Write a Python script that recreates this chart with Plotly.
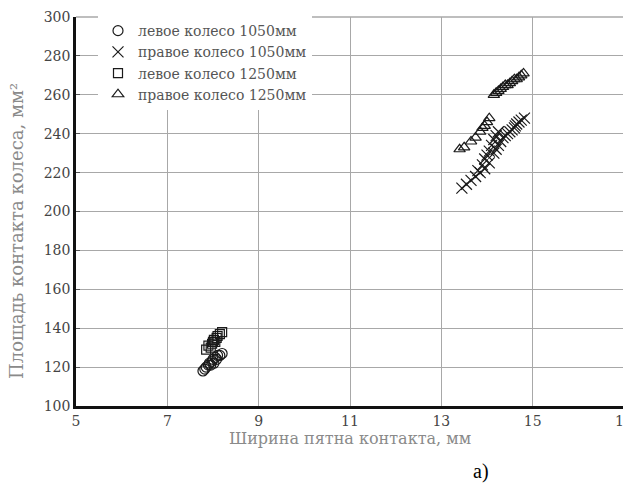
import plotly.graph_objects as go

# Data
left_1050_x = [7.78, 7.82, 7.85, 7.9, 7.92, 7.95, 7.98, 8.0, 8.02, 8.05, 8.08, 8.1, 8.15, 8.2]
left_1050_y = [118, 119, 120, 121, 122, 121, 123, 124, 122, 125, 124, 126, 126, 127]

left_1250_x = [7.85, 7.9, 7.95, 7.98, 8.0, 8.02, 8.05, 8.08, 8.1, 8.15, 8.2]
left_1250_y = [129, 131, 130, 132, 133, 134, 133, 135, 136, 137, 138]

right_1050_x = [13.45, 13.55, 13.65, 13.75, 13.85, 13.95, 14.05, 14.15, 14.2, 14.25,
                14.3, 14.35, 14.4, 14.45, 14.5, 14.55, 14.6, 14.62, 14.65, 14.7,
                14.75, 14.82,
                13.8, 13.9, 13.95, 14.0, 14.05, 14.1, 14.15, 14.2, 14.25]
right_1050_y = [212, 214, 216, 218, 220, 222, 225, 230, 232, 234,
                236, 238, 239, 240, 241, 242, 243, 244, 245, 246,
                247, 248,
                221, 224, 227, 229, 231, 234, 237, 239, 241]

right_1250_x = [13.4, 13.5, 13.65, 13.75, 13.85, 13.9, 13.95, 14.0, 14.05,
                14.15, 14.2, 14.25, 14.3, 14.35, 14.4, 14.45, 14.5, 14.55,
                14.6, 14.65, 14.7, 14.75, 14.8]
right_1250_y = [232, 233, 236, 238, 241, 243, 244, 246, 248,
                260, 261, 262, 263, 264, 265, 265, 266, 267,
                268, 268, 269, 270, 271]

series_names = ["левое колесо 1050мм", "правое колесо 1050мм",
                "левое колесо 1250мм", "правое колесо 1250мм"]

x_ticks = [5, 7, 9, 11, 13, 15, 17]
y_ticks = [100, 120, 140, 160, 180, 200, 220, 240, 260, 280, 300]

FONT = "DejaVu Serif"
MC = "#1a1a1a"
W, H = 631, 483
L, T, PW, PH = 68, 9, 548, 389
R, B = W - L - PW, H - T - PH

fig = go.Figure()
fig.add_trace(go.Scatter(x=left_1050_x, y=left_1050_y, mode="markers", name=series_names[0],
                         marker=dict(symbol="circle-open", size=10, color=MC, line=dict(width=1.2))))
fig.add_trace(go.Scatter(x=right_1050_x, y=right_1050_y, mode="markers", name=series_names[1],
                         marker=dict(symbol="x-thin", size=11, color=MC, line=dict(width=1.2, color=MC))))
fig.add_trace(go.Scatter(x=left_1250_x, y=left_1250_y, mode="markers", name=series_names[2],
                         marker=dict(symbol="square-open", size=9, color=MC, line=dict(width=1.2))))
fig.add_trace(go.Scatter(x=right_1250_x, y=right_1250_y, mode="markers", name=series_names[3],
                         marker=dict(symbol="triangle-up-open", size=10, color=MC, line=dict(width=1.2))))

fig.update_layout(
    width=W, height=H,
    margin=dict(l=L, r=R, t=T, b=B, autoexpand=False),
    paper_bgcolor="white", plot_bgcolor="white",
    font=dict(family=FONT, size=14, color="#333333"),
    showlegend=True,
    legend=dict(x=22 / PW, y=1.005, xanchor="left", yanchor="top",
                bgcolor="white", borderwidth=0,
                font=dict(family=FONT, size=14, color="#555555"),
                tracegroupgap=0),
    xaxis=dict(range=[5, 17], tickvals=x_ticks, showgrid=True, gridcolor="#a8a8a8", gridwidth=1.3,
               showline=True, linecolor="#111111", linewidth=2.5, zeroline=False, automargin=False,
               ticks="", tickfont=dict(family=FONT, size=14, color="#444444"),
               title=dict(text="Ширина пятна контакта, мм", standoff=2,
                          font=dict(family=FONT, size=16, color="#8a8a8a"))),
    yaxis=dict(range=[100, 300], tickvals=y_ticks, showgrid=True, gridcolor="#a8a8a8", gridwidth=1.3,
               showline=True, linecolor="#111111", linewidth=2.5, zeroline=False, automargin=False,
               ticks="inside", ticklen=4, tickcolor="#555555",
               tickfont=dict(family=FONT, size=14, color="#444444")),
)
# y-axis title (placed as rotated text, slightly below centre as in the reference)
fig.add_annotation(text="Площадь контакта колеса, мм²", x=(8 - L) / PW, y=1 - (223 - T) / PH,
                   xref="paper", yref="paper", showarrow=False, textangle=-90,
                   xanchor="center", yanchor="middle",
                   font=dict(family=FONT, size=18, color="#8a8a8a"))
fig.add_annotation(text="а)", x=(473 - L) / PW, y=-(463 - (T + PH)) / PH, xref="paper", yref="paper",
                   showarrow=False, xanchor="center", yanchor="middle",
                   font=dict(family="Liberation Serif", size=20, color="black"))
fig.add_shape(type="line", xref="paper", yref="paper", x0=0, x1=1, y0=1, y1=1,
              line=dict(color="#a8a8a8", width=1.3))

fig.write_html("out.html")
